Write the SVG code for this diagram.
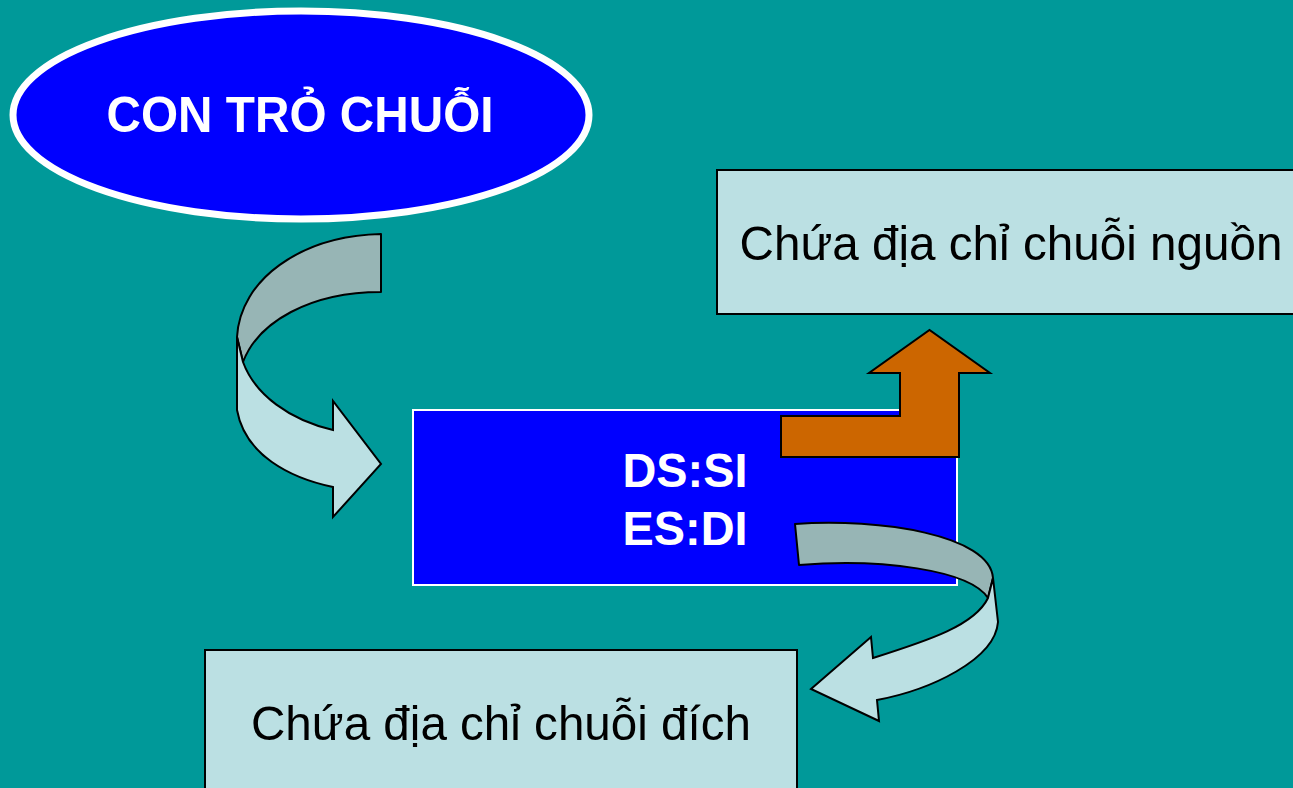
<svg xmlns="http://www.w3.org/2000/svg" width="1293" height="788" viewBox="0 0 1293 788">
  <style>
    .bold { font-family: "Liberation Sans", Arial, sans-serif; font-weight: bold; fill: #FFFFFF; text-anchor: middle; }
    .note { font-family: "Liberation Sans", Arial, sans-serif; fill: #000000; text-anchor: middle; }
    .box { fill: #BBE0E3; stroke: #000000; stroke-width: 2; }
    .back { fill: #97B5B5; stroke: #000000; stroke-width: 2; stroke-linejoin: round; }
    .front { fill: #BBE0E3; stroke: #000000; stroke-width: 2; stroke-linejoin: miter; }
  </style>
  <rect width="1293" height="788" fill="#009999"/>

  <!-- pointer ellipse -->
  <g id="node-pointer">
    <ellipse cx="301" cy="115" rx="288" ry="104" fill="#0000FF" stroke="#FFFFFF" stroke-width="7"/>
    <text class="bold" x="300" y="132" font-size="50" textLength="387" lengthAdjust="spacingAndGlyphs">CON TRỎ CHUỖI</text>
  </g>

  <!-- register pair box -->
  <g id="node-registers">
    <rect x="413" y="410" width="544" height="175" fill="#0000FF" stroke="#FFFFFF" stroke-width="2"/>
    <text class="bold" x="685" y="487" font-size="48" textLength="125" lengthAdjust="spacingAndGlyphs">DS:SI</text>
    <text class="bold" x="685" y="545" font-size="48" textLength="125" lengthAdjust="spacingAndGlyphs">ES:DI</text>
  </g>

  <!-- source string box -->
  <g id="node-source">
    <rect class="box" x="717" y="170" width="600" height="144"/>
    <text class="note" x="1011" y="260" font-size="49" textLength="543" lengthAdjust="spacingAndGlyphs">Chứa địa chỉ chuỗi nguồn</text>
  </g>

  <!-- destination string box -->
  <g id="node-destination">
    <rect class="box" x="205" y="650" width="592" height="160"/>
    <text class="note" x="501" y="740" font-size="49" textLength="500" lengthAdjust="spacingAndGlyphs">Chứa địa chỉ chuỗi đích</text>
  </g>

  <g id="connectors">
    <!-- curved arrow: pointer to registers -->
    <g id="edge-pointer-registers">
      <path class="back" d="M381,234 L381,292 C310,292 258,322 243,362 L237,337 C240,280 300,236 381,234 Z"/>
      <path class="front" d="M237,337 L237,410 C245,455 290,478 333,487 L333,517 L381,464 L333,401 L333,430 C290,420 255,395 243,362 Z"/>
    </g>
    <!-- bent arrow: DS:SI to source box -->
    <g id="edge-dssi-source">
      <polygon points="781,416 900,416 900,373 869,373 929.5,330 990,373 959,373 959,457 781,457" fill="#CC6600" stroke="#000000" stroke-width="2"/>
    </g>
    <!-- curved arrow: ES:DI to destination box -->
    <g id="edge-esdi-destination">
      <path class="back" d="M795,524 L799,565 C880,558 970,570 988,598 L993,578 C990,535 880,518 795,524 Z"/>
      <path class="front" d="M993,578 L998,622 C995,660 930,690 877,700 L879,721 L811,689 L871,637 L873,658 C930,640 975,625 988,598 Z"/>
    </g>
  </g>
</svg>
